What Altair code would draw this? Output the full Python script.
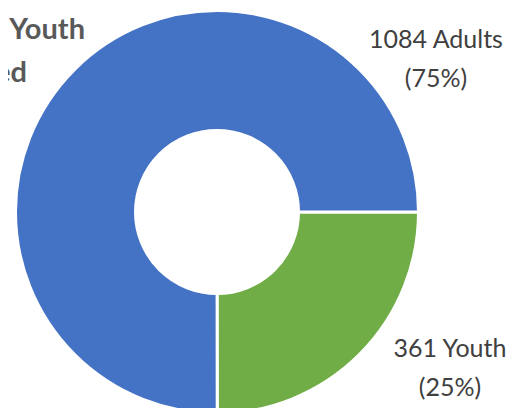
import math
import altair as alt
import pandas as pd

groups = ["Youth", "Adults"]
counts = [361, 1084]
colors = ["#70AD47", "#4472C4"]
label_lines = [["361 Youth", "(25%)"], ["1084 Adults", "(75%)"]]
title_lines = ["Adults and Youth", "Served"]

df = pd.DataFrame({"group": groups, "count": counts})

donut = alt.Chart(df).mark_arc(
    innerRadius=81.5, outerRadius=201.5, stroke="white", strokeWidth=3
).encode(
    theta=alt.Theta("count:Q", stack=True,
                    scale=alt.Scale(range=[math.pi / 2, math.pi / 2 + 2 * math.pi])),
    color=alt.Color("group:N", scale=alt.Scale(domain=groups, range=colors), legend=None),
    order=alt.Order("group:N", sort="descending"),
    x=alt.value(209),
)

label_font = dict(font="Lato", fontSize=25, color="#404040", lineHeight=39,
                  align="center", baseline="alphabetic")

lab_adults = alt.Chart(pd.DataFrame({"t": [label_lines[1]]})).mark_text(**label_font).encode(
    text="t", x=alt.value(428), y=alt.value(40))
lab_youth = alt.Chart(pd.DataFrame({"t": [label_lines[0]]})).mark_text(**label_font).encode(
    text="t", x=alt.value(442), y=alt.value(349))

# Title lines (only their right ends are visible in the reference)
title_font = dict(font="Lato", fontSize=29, fontWeight="bold", color="#595959",
                  align="right", baseline="alphabetic")
t1 = alt.Chart(pd.DataFrame({"t": [title_lines[0]]})).mark_text(**title_font).encode(
    text="t", x=alt.value(77), y=alt.value(31))
t2 = alt.Chart(pd.DataFrame({"t": [title_lines[1]]})).mark_text(**title_font).encode(
    text="t", x=alt.value(19), y=alt.value(74))

chart = alt.layer(donut, lab_adults, lab_youth, t1, t2).properties(
    width=502, height=408,
    autosize=alt.AutoSizeParams(type="none"),
    padding=0,
).configure_view(stroke="transparent", strokeWidth=0)

chart.save("out.html", embed_options={"renderer": "svg", "actions": False})
